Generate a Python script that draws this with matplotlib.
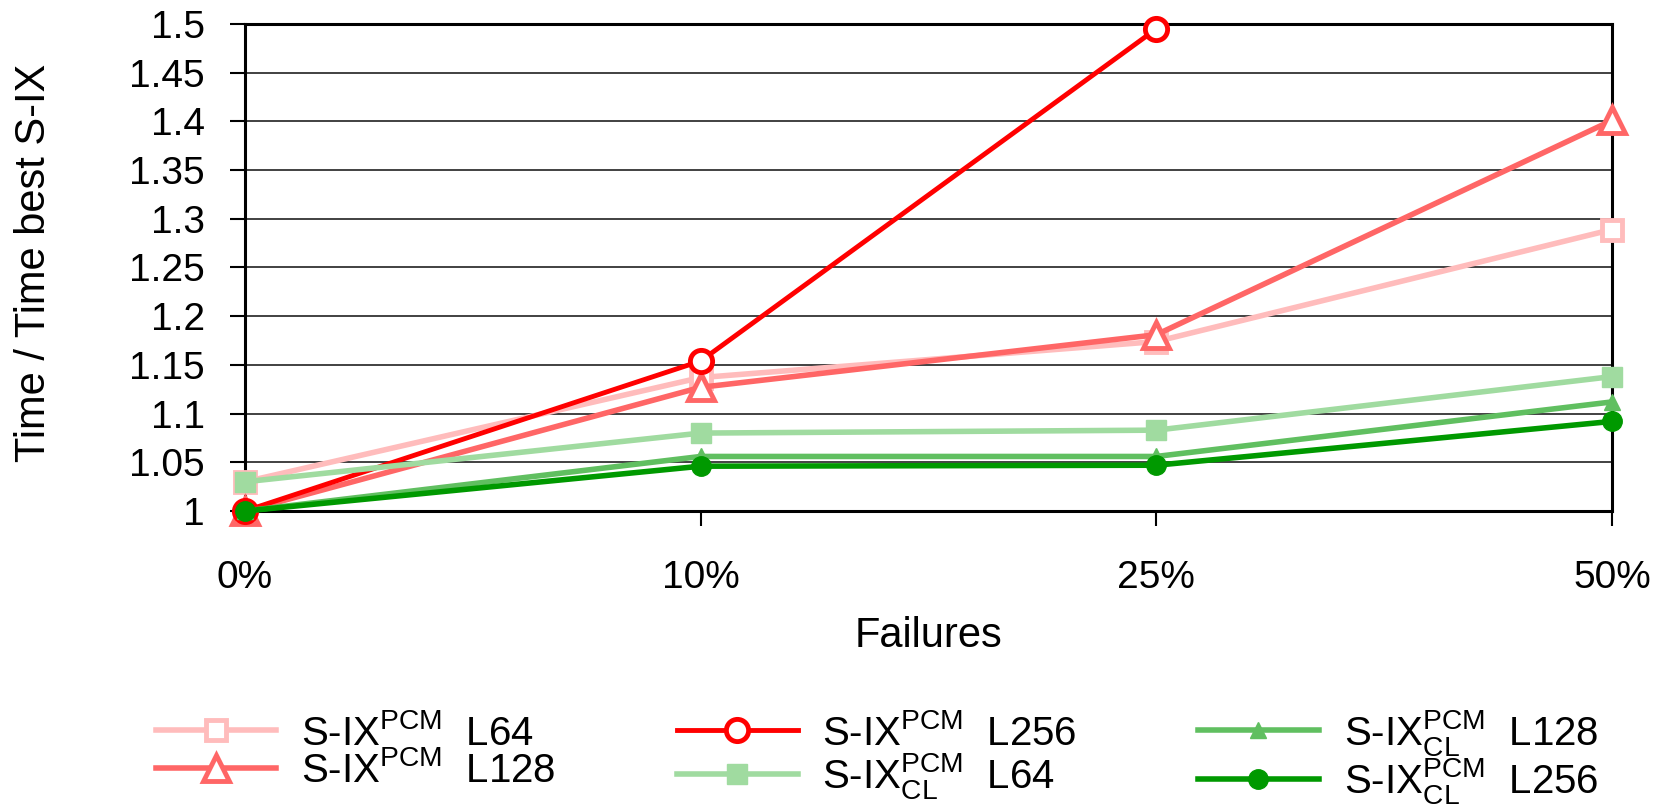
import numpy as np
import matplotlib
matplotlib.use("Agg")
import matplotlib.pyplot as plt

plt.rcParams['font.family'] = ['Liberation Sans', 'DejaVu Sans']
plt.rcParams['mathtext.fontset'] = 'custom'
plt.rcParams['mathtext.rm'] = 'Liberation Sans'
plt.rcParams['mathtext.it'] = 'Liberation Sans'
plt.rcParams['mathtext.default'] = 'regular'

categories = ["0%", "10%", "25%", "50%"]
pcm_l64 = [1.030, 1.137, 1.174, 1.289]
pcm_l128 = [1.000, 1.127, 1.181, 1.401]
pcm_l256 = [1.000, 1.154, 1.495, np.nan]
cl_l64 = [1.030, 1.080, 1.083, 1.138]
cl_l128 = [1.000, 1.056, 1.056, 1.112]
cl_l256 = [1.000, 1.046, 1.047, 1.092]

labels = [
    r"S-IX$^{PCM}$  L64",
    r"S-IX$^{PCM}$  L128",
    r"S-IX$^{PCM}$  L256",
    r"S-IX$^{PCM}_{CL}$  L64",
    r"S-IX$^{PCM}_{CL}$  L128",
    r"S-IX$^{PCM}_{CL}$  L256",
]
yticks = [1, 1.05, 1.1, 1.15, 1.2, 1.25, 1.3, 1.35, 1.4, 1.45, 1.5]
ytick_labels = ["1", "1.05", "1.1", "1.15", "1.2", "1.25", "1.3", "1.35", "1.4", "1.45", "1.5"]

fig = plt.figure(figsize=(16.67, 8.05), dpi=100)
ax = fig.add_axes([245/1667, 1 - 511/805, (1612-245)/1667, (511-24)/805])

x = np.arange(len(categories))
styles = [
    dict(color='#ffbcbc', marker='s', ms=15, mfc='white', mew=3.5, lw=4),
    dict(color='#ff6666', marker='^', ms=19, mfc='white', mew=3.5, lw=4),
    dict(color='#ff0000', marker='o', ms=16, mfc='white', mew=3.5, lw=3.5),
    dict(color='#a0dba0', marker='s', ms=15, lw=4),
    dict(color='#60bf60', marker='^', ms=12, lw=4),
    dict(color='#009900', marker='o', ms=14, lw=4),
]
series = [pcm_l64, pcm_l128, pcm_l256, cl_l64, cl_l128, cl_l256]
for s, st, lab in zip(series, styles, labels):
    ax.plot(x, s, label=lab, clip_on=False, zorder=3, **st)

ax.set_xlim(0, 3)
ax.set_ylim(1, 1.5)
ax.set_xticks(x)
ax.set_xticklabels(categories)
ax.set_yticks(yticks)
ax.set_yticklabels(ytick_labels)
ax.yaxis.grid(True, color='#333333', lw=1.3)
ax.set_axisbelow(True)
for sp in ax.spines.values():
    sp.set_linewidth(2.2)
ax.tick_params(axis='both', labelsize=28, length=11, width=1.5, direction='out')
ax.tick_params(axis='x', pad=24)
ax.tick_params(axis='y', pad=18)
ax.set_xlabel("Failures", fontsize=30, labelpad=15)
ax.set_ylabel("Time / Time best S-IX", fontsize=30)
ax.yaxis.set_label_coords(-0.140, 0.51)

fig.legend(loc='center', bbox_to_anchor=(0.526, 0.060), ncol=3, frameon=False,
           fontsize=29, handlelength=3.0, handletextpad=0.62, columnspacing=3.0,
           labelspacing=-0.04, numpoints=1)

fig.savefig("out.png", dpi=100)
